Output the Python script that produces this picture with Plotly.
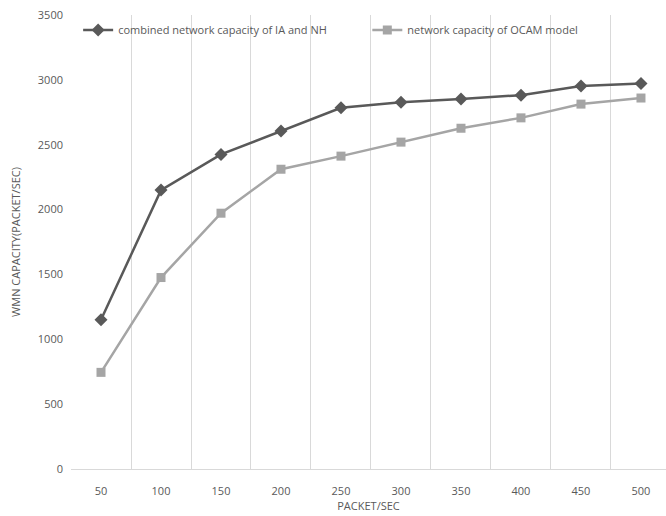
import plotly.graph_objects as go

categories = ["50", "100", "150", "200", "250", "300", "350", "400", "450", "500"]
combined_ia_nh = [1150, 2150, 2425, 2605, 2785, 2828, 2852, 2882, 2952, 2972]
ocam_model = [745, 1476, 1972, 2311, 2412, 2520, 2627, 2707, 2813, 2860]
y_ticks = [0, 500, 1000, 1500, 2000, 2500, 3000, 3500]

font_fam = "Open Sans, Arial"
xs = list(range(len(categories)))

fig = go.Figure()
fig.add_trace(go.Scatter(
    x=xs, y=combined_ia_nh, mode="lines+markers",
    name="combined network capacity of IA and NH",
    line=dict(color="#595959", width=2.5),
    marker=dict(symbol="diamond", size=10, color="#595959"),
    legend="legend",
))
fig.add_trace(go.Scatter(
    x=xs, y=ocam_model, mode="lines+markers",
    name="network capacity of OCAM model",
    line=dict(color="#a5a5a5", width=2.5),
    marker=dict(symbol="square", size=9, color="#a5a5a5"),
    legend="legend2",
))

leg_common = dict(orientation="h", yanchor="middle", xanchor="left",
                  font=dict(size=11, color="#595959"), bgcolor="rgba(0,0,0,0)")

fig.update_layout(
    width=666, height=516,
    margin=dict(l=71, r=0, t=15, b=47),
    paper_bgcolor="white", plot_bgcolor="white",
    font=dict(family=font_fam, size=11, color="#595959"),
    showlegend=True,
    legend=dict(x=0.012, y=0.967, **leg_common),
    legend2=dict(x=0.498, y=0.967, **leg_common),
    xaxis=dict(
        range=[-0.5, 9.417], automargin=False,
        tickvals=xs, ticktext=categories,
        showgrid=False, zeroline=False,
        showline=True, linecolor="#d9d9d9", linewidth=1,
        ticks="", tickfont=dict(size=11, color="#595959"),
        ticklabelstandoff=12,
        minor=dict(tickvals=[i + 0.5 for i in range(-1, 10)], showgrid=True,
                   gridcolor="#d9d9d9", gridwidth=1, ticks=""),
        title=dict(text="PACKET/SEC", font=dict(size=11, color="#595959"), standoff=4),
    ),
    yaxis=dict(
        range=[0, 3500], tickvals=y_ticks, automargin=False,
        showgrid=False, zeroline=False, showline=False,
        ticks="", tickfont=dict(size=11, color="#595959"),
        ticklabelstandoff=7,
        title=dict(text="WMN CAPACITY(PACKET/SEC)", font=dict(size=11, color="#595959"), standoff=14),
    ),
)

fig.write_html("out.html", config={"displayModeBar": False},
               post_script="document.body.style.margin='0';")
